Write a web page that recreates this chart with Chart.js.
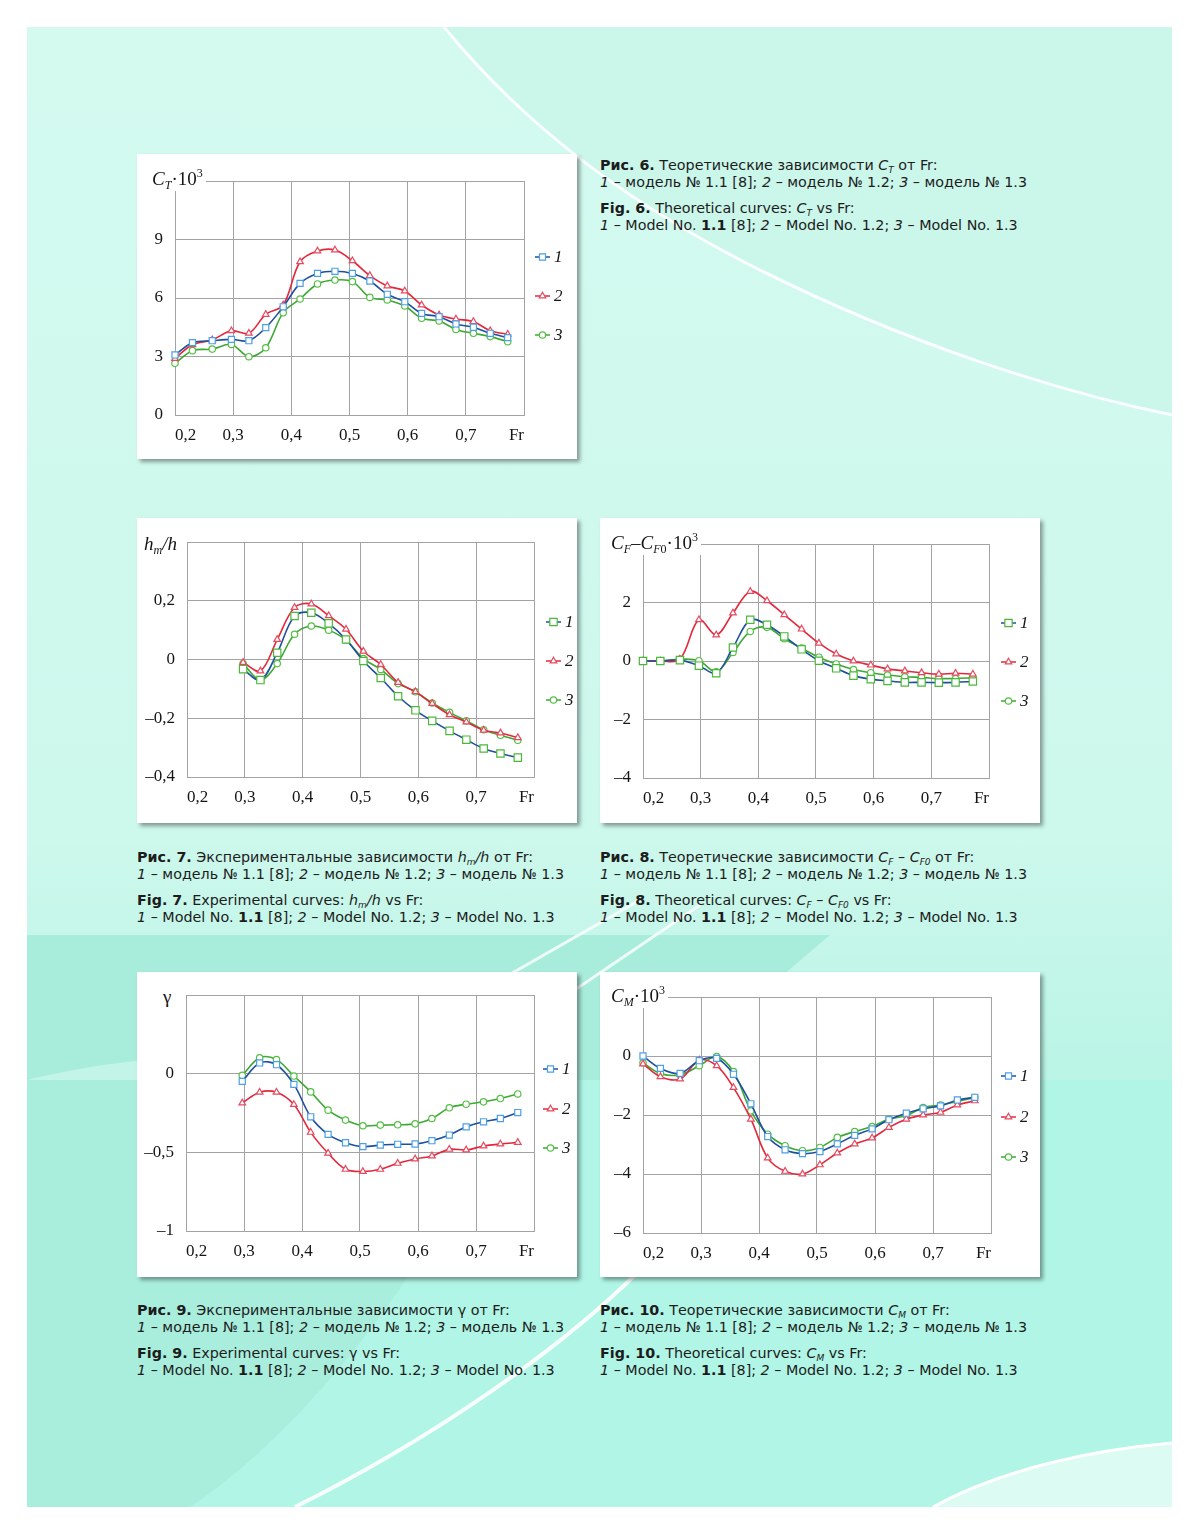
<!DOCTYPE html>
<html>
<head>
<meta charset="utf-8">
<script src="https://cdn.jsdelivr.net/npm/chart.js@4.4.1/dist/chart.umd.min.js"></script>
<style>
    body { margin: 0; width: 1200px; height: 1535px; position: relative; overflow: hidden; background: #fff; font-family: "DejaVu Sans", Verdana, sans-serif; }
    #bg { position: absolute; left: 0; top: 0; }
    .box { position: absolute; background: #fff; box-shadow: 3px 3px 4px rgba(0, 0, 0, 0.38); }
    .box canvas { position: absolute; left: 0; top: 0; }
    .ytitle { position: absolute; background: #fff; font-family: "Liberation Serif", "Times New Roman", serif; font-size: 19px; line-height: 20px; color: #151515; white-space: nowrap; padding: 1px 3px 2px 3px; }
    .ytitle sub { font-size: 12px; vertical-align: -4px; line-height: 0; }
    .ytitle sup { font-size: 12px; vertical-align: 8px; line-height: 0; }
    .cap { position: absolute; font-size: 14.3px; line-height: 17px; color: #1c1c1c; white-space: nowrap; }
    .cap p { margin: 0 0 9px 0; }
    .cap sub { font-size: 9px; vertical-align: -3px; line-height: 0; }
</style>
</head>
<body>
<svg id="bg" width="1200" height="1535">
    <defs>
        <linearGradient id="page" x1="0" y1="0" x2="0" y2="1">
            <stop offset="0" stop-color="#d4faf0"/>
            <stop offset="0.55" stop-color="#cdf8ec"/>
            <stop offset="0.72" stop-color="#b8f4e5"/>
            <stop offset="1" stop-color="#b0f6e6"/>
        </linearGradient>
    </defs>
    <rect x="27" y="27" width="1145" height="1480" fill="url(#page)"/>
    <path d="M444 27 C 520 120, 620 200, 760 270 S 1050 390, 1172 415 L 1172 27 Z" fill="#cbf6ea"/>
    <path d="M444 27 C 520 120, 620 200, 760 270 S 1050 390, 1172 415" fill="none" stroke="#fff" stroke-width="3" opacity="0.9"/>
    <path d="M27 935 L 830 935 L 660 1080 L 27 1080 Z" fill="#a8ecdb"/>
    <path d="M27 1080 C 150 1050, 300 1045, 420 1080 Z" fill="#c2f4e8"/>
    <path d="M500 980 L 640 900 M 560 1000 L 700 905" stroke="#fff" stroke-width="3" opacity="0.8"/>
    <rect x="27" y="1080" width="1145" height="427" fill="#b0f5e5"/>
    <path d="M27 1080 L 520 1080 C 440 1250, 320 1420, 190 1507 L 27 1507 Z" fill="#a9eedd"/>
    <path d="M295 1507 C 430 1440, 560 1350, 640 1270" fill="none" stroke="#fff" stroke-width="4" opacity="0.9"/>
    <path d="M933 1507 C 1000 1470, 1090 1450, 1172 1443 L 1172 1507 Z" fill="#dcfbf3"/>
    <path d="M933 1507 C 1000 1470, 1090 1450, 1172 1443" fill="none" stroke="#fff" stroke-width="3"/>
</svg>

<div class="box" id="b6"><canvas id="c6"></canvas></div>
<div class="box" id="b7"><canvas id="c7"></canvas></div>
<div class="box" id="b8"><canvas id="c8"></canvas></div>
<div class="box" id="b9"><canvas id="c9"></canvas></div>
<div class="box" id="b10"><canvas id="c10"></canvas></div>

<div class="ytitle" style="left:149px;top:168px"><i>C</i><sub><i>T</i></sub>·10<sup>3</sup></div>
<div class="ytitle" style="left:141px;top:533px"><i>h</i><sub><i>m</i></sub><i>/h</i></div>
<div class="ytitle" style="left:608px;top:532px"><i>C</i><sub><i>F</i></sub>–<i>C</i><sub><i>F</i>0</sub>·10<sup>3</sup></div>
<div class="ytitle" style="left:160px;top:986px">γ</div>
<div class="ytitle" style="left:608px;top:985px"><i>C</i><sub><i>M</i></sub>·10<sup>3</sup></div>

<div class="cap" style="left:600px;top:157px">
    <p><b>Рис. 6.</b> Теоретические зависимости <i>C</i><sub><i>T</i></sub> от Fr:<br><i>1</i> – модель № 1.1 [8]; <i>2</i> – модель № 1.2; <i>3</i> – модель № 1.3</p>
    <p><b>Fig. 6.</b> Theoretical curves: <i>C</i><sub><i>T</i></sub> vs Fr:<br><i>1</i> – Model No. <b>1.1</b> [8]; <i>2</i> – Model No. 1.2; <i>3</i> – Model No. 1.3</p>
</div>
<div class="cap" style="left:137px;top:849px">
    <p><b>Рис. 7.</b> Экспериментальные зависимости <i>h</i><sub><i>m</i></sub><i>/h</i> от Fr:<br><i>1</i> – модель № 1.1 [8]; <i>2</i> – модель № 1.2; <i>3</i> – модель № 1.3</p>
    <p><b>Fig. 7.</b> Experimental curves: <i>h</i><sub><i>m</i></sub><i>/h</i> vs Fr:<br><i>1</i> – Model No. <b>1.1</b> [8]; <i>2</i> – Model No. 1.2; <i>3</i> – Model No. 1.3</p>
</div>
<div class="cap" style="left:600px;top:849px">
    <p><b>Рис. 8.</b> Теоретические зависимости <i>C</i><sub><i>F</i></sub> – <i>C</i><sub><i>F0</i></sub> от Fr:<br><i>1</i> – модель № 1.1 [8]; <i>2</i> – модель № 1.2; <i>3</i> – модель № 1.3</p>
    <p><b>Fig. 8.</b> Theoretical curves: <i>C</i><sub><i>F</i></sub> – <i>C</i><sub><i>F0</i></sub> vs Fr:<br><i>1</i> – Model No. <b>1.1</b> [8]; <i>2</i> – Model No. 1.2; <i>3</i> – Model No. 1.3</p>
</div>
<div class="cap" style="left:137px;top:1302px">
    <p><b>Рис. 9.</b> Экспериментальные зависимости γ от Fr:<br><i>1</i> – модель № 1.1 [8]; <i>2</i> – модель № 1.2; <i>3</i> – модель № 1.3</p>
    <p><b>Fig. 9.</b> Experimental curves: γ vs Fr:<br><i>1</i> – Model No. <b>1.1</b> [8]; <i>2</i> – Model No. 1.2; <i>3</i> – Model No. 1.3</p>
</div>
<div class="cap" style="left:600px;top:1302px">
    <p><b>Рис. 10.</b> Теоретические зависимости <i>C</i><sub><i>M</i></sub> от Fr:<br><i>1</i> – модель № 1.1 [8]; <i>2</i> – модель № 1.2; <i>3</i> – модель № 1.3</p>
    <p><b>Fig. 10.</b> Theoretical curves: <i>C</i><sub><i>M</i></sub> vs Fr:<br><i>1</i> – Model No. <b>1.1</b> [8]; <i>2</i> – Model No. 1.2; <i>3</i> – Model No. 1.3</p>
</div>

<script>
// Froude numbers
const frFull = [0.2, 0.23, 0.264, 0.297, 0.327, 0.356, 0.386, 0.415, 0.445, 0.475, 0.505, 0.535, 0.565, 0.595, 0.624, 0.654, 0.683, 0.713, 0.742, 0.772]
const frExp = [0.297, 0.327, 0.356, 0.386, 0.415, 0.445, 0.475, 0.505, 0.535, 0.565, 0.595, 0.624, 0.654, 0.683, 0.713, 0.742, 0.772]

const seriesLabels = ["1", "2", "3"]

// fig 6: CT * 10^3
const ct1 = [3.08, 3.71, 3.81, 3.88, 3.81, 4.48, 5.55, 6.75, 7.26, 7.37, 7.26, 6.87, 6.19, 5.81, 5.21, 5.04, 4.67, 4.5, 4.19, 3.97]
const ct2 = [2.9, 3.6, 3.85, 4.32, 4.19, 5.16, 5.64, 7.86, 8.41, 8.46, 7.91, 7.15, 6.62, 6.36, 5.64, 5.13, 4.92, 4.79, 4.32, 4.14]
const ct3 = [2.65, 3.3, 3.38, 3.62, 2.99, 3.45, 5.25, 5.95, 6.72, 6.92, 6.84, 6.03, 5.9, 5.59, 4.96, 4.82, 4.39, 4.19, 4.02, 3.76]

// fig 7: hm/h
const hm1 = [-0.033, -0.07, 0.023, 0.148, 0.159, 0.123, 0.068, -0.005, -0.063, -0.125, -0.173, -0.209, -0.243, -0.273, -0.303, -0.32, -0.334]
const hm2 = [-0.01, -0.039, 0.068, 0.177, 0.189, 0.149, 0.103, 0.028, -0.017, -0.078, -0.11, -0.15, -0.188, -0.213, -0.241, -0.25, -0.266]
const hm3 = [-0.014, -0.07, -0.014, 0.086, 0.114, 0.1, 0.066, 0.003, -0.034, -0.082, -0.11, -0.148, -0.18, -0.209, -0.239, -0.258, -0.275]

// fig 8: CF - CF0 * 10^3
const cf1 = [0, 0, 0.03, -0.16, -0.42, 0.46, 1.41, 1.24, 0.84, 0.4, 0.01, -0.25, -0.5, -0.62, -0.68, -0.73, -0.73, -0.74, -0.73, -0.7]
const cf2 = [0, 0, 0.06, 1.41, 0.89, 1.64, 2.38, 2.06, 1.58, 1.09, 0.61, 0.24, 0, -0.14, -0.27, -0.34, -0.4, -0.45, -0.42, -0.45]
const cf3 = [0, 0, 0.06, 0.01, -0.37, 0.29, 1.01, 1.15, 0.76, 0.44, 0.13, -0.1, -0.29, -0.4, -0.48, -0.54, -0.56, -0.6, -0.6, -0.57]

// fig 9: gamma
const g1 = [-0.049, 0.068, 0.057, -0.068, -0.274, -0.386, -0.439, -0.464, -0.454, -0.449, -0.447, -0.426, -0.39, -0.338, -0.306, -0.285, -0.247]
const g2 = [-0.186, -0.118, -0.118, -0.196, -0.373, -0.506, -0.608, -0.622, -0.608, -0.57, -0.542, -0.523, -0.481, -0.485, -0.46, -0.447, -0.437]
const g3 = [-0.011, 0.101, 0.089, -0.015, -0.116, -0.232, -0.295, -0.331, -0.327, -0.325, -0.319, -0.285, -0.217, -0.194, -0.179, -0.158, -0.129]

// fig 10: CM * 10^3
const cm1 = [0, -0.42, -0.59, -0.16, -0.08, -0.62, -1.62, -2.73, -3.18, -3.31, -3.24, -2.98, -2.69, -2.47, -2.16, -1.94, -1.79, -1.69, -1.49, -1.4]
const cm2 = [-0.27, -0.7, -0.78, -0.14, -0.33, -1.07, -2.14, -3.46, -3.91, -4.0, -3.69, -3.29, -2.98, -2.78, -2.42, -2.14, -2.0, -1.91, -1.66, -1.52]
const cm3 = [-0.23, -0.59, -0.64, -0.33, -0.02, -0.53, -1.86, -2.65, -3.04, -3.21, -3.1, -2.76, -2.56, -2.39, -2.14, -2.02, -1.75, -1.66, -1.54, -1.41]

const gridColor = "#a3a3a3"
const serif = "'Liberation Serif', 'Times New Roman', serif"

const blueSquare = { line: "#1f4f9f", mark: "#4d9fe6", shape: "rect", r: 4.3 }
const greenSquare = { line: "#1f4f9f", mark: "#4cb83a", shape: "rect", r: 5.2 }
const redTriangle = { line: "#e4283c", mark: "#e54a60", shape: "triangle", r: 3.8 }
const greenCircle = { line: "#3ea834", mark: "#55bf45", shape: "circle", r: 3.2 }

const fmt = (v) => {
    const r = Math.round(v * 100) / 100
    const s = String(Math.abs(r)).replace(".", ",")
    return r < 0 ? "–" + s : s
}

const sideLegend = {
    id: "sideLegend",
    afterDraw: (chart, args, opts) => {
        const ctx = chart.ctx
        ctx.save()
        chart.data.datasets.forEach((ds, i) => {
            const x = opts.x
            const y = opts.ys[i]
            ctx.strokeStyle = ds.borderColor
            ctx.lineWidth = 1.5
            ctx.beginPath()
            ctx.moveTo(x, y)
            ctx.lineTo(x + 15, y)
            ctx.stroke()
            ctx.fillStyle = "#fff"
            ctx.strokeStyle = ds.pointBorderColor
            ctx.lineWidth = 1.2
            Chart.helpers.drawPoint(ctx, { pointStyle: ds.pointStyle, radius: ds.pointRadius, rotation: 0, borderWidth: 1.2 }, x + 7.5, y)
            ctx.fillStyle = "#151515"
            ctx.font = "italic 17px " + serif
            ctx.textAlign = "left"
            ctx.textBaseline = "middle"
            ctx.fillText(ds.label, x + 19, y + 1)
        })
        ctx.restore()
    },
}

const addChart = (cfg) => {
    const [bx, by, bw, bh] = cfg.box
    const [pl, pt, pr, pb] = cfg.plot
    const boxEl = document.getElementById(cfg.boxId)
    boxEl.style.left = bx + "px"
    boxEl.style.top = by + "px"
    boxEl.style.width = bw + "px"
    boxEl.style.height = bh + "px"
    const canvas = document.getElementById(cfg.canvasId)
    canvas.width = bw
    canvas.height = bh

    const [yMin, yMax, yStep] = cfg.yRange
    // space taken by the tick labels, the scale boxes get exactly this
    const yAxisWidth = pl - bx
    const xAxisHeight = by + bh - pb

    const datasets = cfg.series.map((ys, i) => {
        const st = cfg.styles[i]
        return {
            label: seriesLabels[i],
            data: ys.map((y, k) => ({ x: cfg.xs[k], y })),
            borderColor: st.line,
            borderWidth: 1.6,
            tension: 0.35,
            pointStyle: st.shape,
            pointRadius: st.r,
            pointBorderColor: st.mark,
            pointBackgroundColor: "#fff",
            pointBorderWidth: 1.2,
            clip: false,
        }
    })

    return new Chart(canvas, {
        type: "line",
        data: { datasets },
        plugins: [sideLegend],
        options: {
            responsive: false,
            animation: false,
            layout: {
                padding: { left: 0, top: pt - by, right: bx + bw - pr, bottom: 0 },
            },
            plugins: {
                legend: { display: false },
                tooltip: { enabled: false },
                sideLegend: { x: cfg.legend[0] - bx, ys: cfg.legend[1].map((y) => y - by) },
            },
            scales: {
                x: {
                    type: "linear",
                    min: 0.2,
                    max: 0.8,
                    afterFit: (scale) => { scale.height = xAxisHeight },
                    grid: { color: gridColor, lineWidth: 1, drawTicks: false },
                    border: { color: gridColor, width: 1 },
                    ticks: {
                        stepSize: 0.1,
                        align: "inner",
                        padding: 10,
                        maxRotation: 0,
                        autoSkip: false,
                        color: "#151515",
                        font: { family: serif, size: 17 },
                        callback: (v) => (Math.round(v * 10) === 8 ? "Fr" : fmt(v)),
                    },
                },
                y: {
                    type: "linear",
                    min: yMin,
                    max: yMax,
                    afterFit: (scale) => { scale.width = yAxisWidth },
                    grid: { color: gridColor, lineWidth: 1, drawTicks: false },
                    border: { color: gridColor, width: 1 },
                    ticks: {
                        stepSize: yStep,
                        padding: 12,
                        color: "#151515",
                        font: { family: serif, size: 17 },
                        callback: (v) => (Math.abs(v - yMax) < 1e-9 ? "" : fmt(v)),
                    },
                },
            },
        },
    })
}

addChart({
    boxId: "b6", canvasId: "c6",
    box: [137, 154, 440, 305], plot: [175, 181, 524, 415],
    xs: frFull, series: [ct1, ct2, ct3], yRange: [0, 12, 3],
    styles: [blueSquare, redTriangle, greenCircle],
    legend: [535, [257, 296, 335]],
})

addChart({
    boxId: "b7", canvasId: "c7",
    box: [137, 518, 440, 305], plot: [187, 542, 534, 777],
    xs: frExp, series: [hm1, hm2, hm3], yRange: [-0.4, 0.4, 0.2],
    styles: [greenSquare, redTriangle, greenCircle],
    legend: [546, [622, 661, 700]],
})

addChart({
    boxId: "b8", canvasId: "c8",
    box: [600, 518, 440, 305], plot: [643, 544, 989, 778],
    xs: frFull, series: [cf1, cf2, cf3], yRange: [-4, 4, 2],
    styles: [greenSquare, redTriangle, greenCircle],
    legend: [1001, [623, 662, 701]],
})

addChart({
    boxId: "b9", canvasId: "c9",
    box: [137, 972, 440, 305], plot: [186, 995, 534, 1231],
    xs: frExp, series: [g1, g2, g3], yRange: [-1, 0.5, 0.5],
    styles: [blueSquare, redTriangle, greenCircle],
    legend: [543, [1069, 1109, 1148]],
})

addChart({
    boxId: "b10", canvasId: "c10",
    box: [600, 972, 440, 305], plot: [643, 997, 991, 1233],
    xs: frFull, series: [cm1, cm2, cm3], yRange: [-6, 2, 2],
    styles: [blueSquare, redTriangle, greenCircle],
    legend: [1001, [1076, 1117, 1157]],
})
</script>
</body>
</html>
